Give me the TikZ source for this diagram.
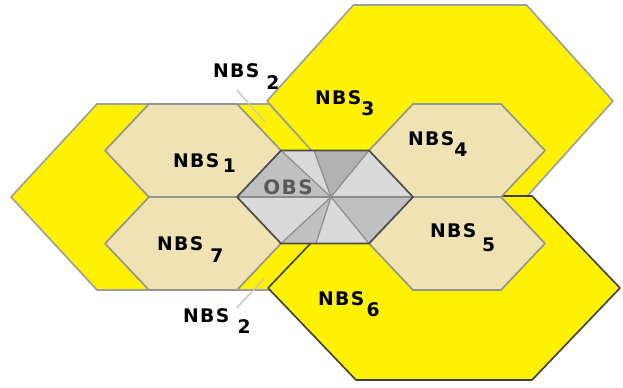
\documentclass[tikz,border=0pt]{standalone}
\usepackage{fontspec}
\usepackage{xcolor}
\usepackage{tikz}
\newfontfamily\lblfont[LetterSpace=7]{DejaVu Sans}
\definecolor{vang}{RGB}{255,242,0}
\definecolor{be}{RGB}{239,227,180}
\definecolor{xamnhat}{RGB}{218,218,218}
\definecolor{xamvua}{RGB}{192,192,192}
\definecolor{xamdam}{RGB}{178,178,178}
\newcommand{\nbs}[3]{NBS\hspace{#1pt}\raisebox{-#2pt}{#3}}

\begin{document}
\begin{tikzpicture}[x=0.03cm,y=-0.03cm,
	bigcell/.style={fill=vang,draw=gray!75,line width=1.4pt,line join=round},
	nbcell/.style={fill=be,draw=gray!85,line width=1.4pt,line join=round},
	lbl/.style={font=\lblfont\bfseries\fontsize{16}{19}\selectfont,inner sep=0pt,anchor=base west},
	leader/.style={draw=gray!45,line width=1.2pt}]
			\useasboundingbox (0,0) rectangle (623,387);
			% Vẽ ba ô lớn
			\filldraw[bigcell] (11,197) -- ++(86,-93) -- ++(172,0) -- ++(86,93) -- ++(-86,93) -- ++(-172,0) -- cycle;
			\filldraw[bigcell] (267,101) -- ++(86.5,-96) -- ++(173,0) -- ++(86.5,96) -- ++(-86.5,96) -- ++(-173,0) -- cycle;
			\filldraw[bigcell,draw=black!75] (268,288) -- ++(88,-92) -- ++(176,0) -- ++(88,92) -- ++(-88,92) -- ++(-176,0) -- cycle;
			% Vẽ các ô NBS
			\foreach \cx/\cy in {193/150.5,457/150.5,457/243.5,193/243.5}
			\filldraw[nbcell] (\cx-88,\cy) -- ++(44,-46.5) -- ++(88,0) -- ++(44,46.5) -- ++(-44,46.5) -- ++(-88,0) -- cycle;
			% Vẽ ô OBS
			\coordinate (O) at (331,197);
			\coordinate (L) at (237,197);
			\coordinate (TL) at (281,150.5);
			\coordinate (TM) at (314,150.5);
			\coordinate (TR) at (369,150.5);
			\coordinate (R) at (413,197);
			\coordinate (BR) at (369,243.5);
			\coordinate (BM) at (316,243.5);
			\coordinate (BL) at (281,243.5);
			\foreach \a/\b/\mau in {L/TL/xamvua,TL/TM/xamnhat,TM/TR/xamdam,TR/R/xamnhat,R/BR/xamvua,BR/BM/xamnhat,BM/BL/xamvua,BL/L/xamnhat}
			\fill[\mau] (O) -- (\a) -- (\b) -- cycle;
			\node[font=\lblfont\bfseries\fontsize{17}{20}\selectfont,text=gray!70!black,inner sep=0pt] (obs) at (288,187) {OBS};
			\foreach \v in {L,TL,TM,TR,R,BR,BM,BL}
			\draw[gray!90,line width=1pt] (O) -- (\v);
			\draw[black!70,line width=1.4pt,line join=round] (L) -- (TL) -- (TR) -- (R) -- (BR) -- (BL) -- cycle;
			% Nhãn
			\node[lbl] (n1) at (173,167) {\nbs{3}{5}{1}};
			\node[lbl] (n3) at (315,104) {\nbs{0}{10}{3}};
			\node[lbl] (n4) at (408,145) {\nbs{0}{10}{4}};
			\node[lbl] (n5) at (430,237) {\nbs{5}{12.5}{5}};
			\node[lbl] (n6) at (318,305) {\nbs{2}{9.5}{6}};
			\node[lbl] (n7) at (157,250) {\nbs{6}{11}{7}};
			\node[lbl] (n2a) at (213,77) {\nbs{6}{11}{2}};
			\node[lbl] (n2b) at (183,322) {\nbs{7}{9.5}{2}};
			\coordinate (d2a) at (265,122);
			\coordinate (d2b) at (264,279);
			\draw[leader] ([xshift=-8pt]n2a.south) -- (d2a);
			\draw[leader] ([xshift=-12pt]n2b.north east) -- (d2b);
		\end{tikzpicture}
\end{document}
